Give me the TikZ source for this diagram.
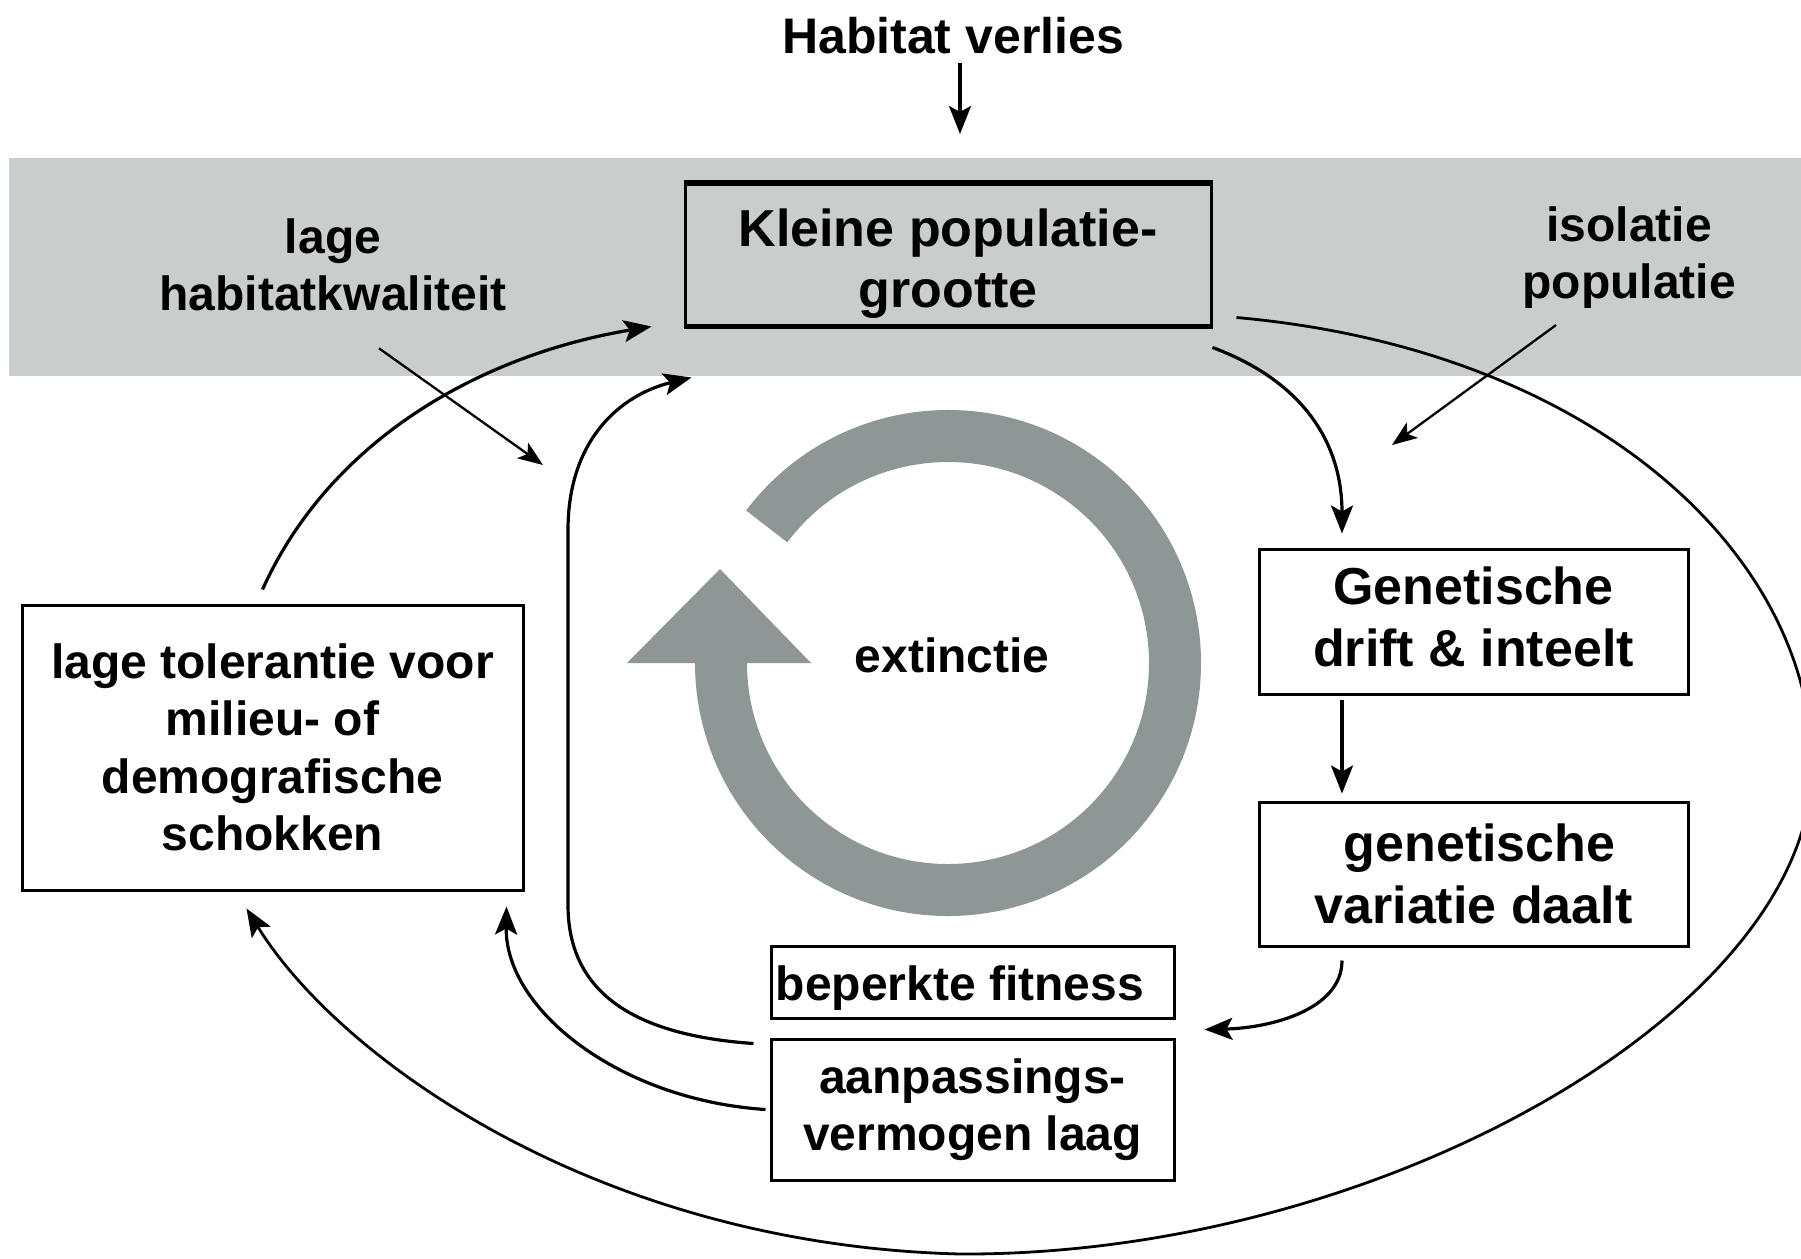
\documentclass[tikz,border=0pt]{standalone}
\usepackage{fontspec}
\setmainfont{Liberation Sans}
\usetikzlibrary{arrows.meta,calc}
\definecolor{bandgrey}{RGB}{201,205,204}
\definecolor{ringgrey}{RGB}{142,151,149}
\newcommand{\myfs}[2]{\fontsize{#1}{#2}\selectfont\bfseries}
\begin{document}
\begin{tikzpicture}[x=1pt,y=-1pt,
  box/.style={draw, line width=3pt, inner sep=0pt, align=center},
  lbl/.style={inner sep=0pt, align=center},
  arr/.style={line width=3.2pt, -{Stealth[length=28pt,width=22pt,inset=6pt]}},
  thinarr/.style={line width=2.3pt, -{Stealth[length=25pt,width=19pt,inset=6pt]}}]
\useasboundingbox (0,0) rectangle (1801,1258);
\fill[white] (0,0) rectangle (1801,1258);
% grey band
\fill[bandgrey] (9,158) rectangle (1801,376);
% extinction ring
\draw[ringgrey, line width=52pt] (948,663) ++(-143:227) arc[start angle=-143, end angle=180, radius=227];
\fill[ringgrey] (627,663) -- (811,663) -- (720,569) -- cycle;
\node[lbl, font=\myfs{48}{57}] (ex) at (952,655) {extinctie};
% texts
\node[lbl, font=\myfs{50}{60}] (hv) at (953,36) {Habitat verlies};
\node[lbl, font=\myfs{48}{57}] (lh) at (333,265) {lage\\habitatkwaliteit};
\node[lbl, font=\myfs{48}{57}] (ip) at (1629,258) {isolatie\\populatie};
% boxes
\node[box, fill=bandgrey, minimum width=526pt, minimum height=141pt] (kp) at (948,254.5) {};
\node[lbl, font=\myfs{52}{61}] (kpt) at (948,264) {Kleine populatie-\\grootte};
\draw[line width=5pt] (kp.north west) -- (kp.north east);
\draw[line width=5pt] (kp.south west) -- (kp.south east);
\node[box, minimum width=501pt, minimum height=285pt, font=\myfs{48}{57.5}] (lt) at (272.5,747.5) {lage tolerantie voor\\milieu- of\\demografische\\schokken};
\node[box, minimum width=429pt, minimum height=145pt] (gd) at (1473.5,621.5) {};
\node[lbl, font=\myfs{52}{62}] (gdt) at (1473.5,617) {Genetische\\drift \& inteelt};
\node[box, minimum width=429pt, minimum height=144pt, font=\myfs{52}{62}] (gv) at (1473.5,874) {\hspace*{12pt}genetische\\variatie daalt};
\node[box, minimum width=403pt, minimum height=72pt] (bf) at (972.5,982) {};
\node[lbl, font=\myfs{48}{57}] (bft) at (960,988) {beperkte fitness};
\node[box, minimum width=403pt, minimum height=141pt, font=\myfs{48}{57}] (ap) at (972.5,1109.5) {aanpassings-\\vermogen laag};
% free ends
\coordinate (hvE) at (960,134);
\coordinate (lhE) at (543,465);
\coordinate (ipE) at (1392,445);
% connectors
\draw[arr] ($(hv.south)+(7,8)$) -- (hvE);
\draw[thinarr] ([shift={(46,37)}]lh.south) -- (lhE);
\draw[thinarr] ([shift={(-73,16)}]ip.south) -- (ipE);
\draw[arr] ([shift={(0,21)}]kp.south east) .. controls (1300,380) and (1342,440) .. ([shift={(-131.5,-14)}]gd.north);
\draw[arr] ([shift={(-131.5,4)}]gd.south) -- ([shift={(-131.5,-7)}]gv.north);
\draw[arr] ([shift={(-131.5,13)}]gv.south) .. controls (1342,1010) and (1270,1028) .. ([shift={(29,-8)}]ap.north east);
\draw[arr, line width=2.8pt] ([shift={(24,-9)}]kp.south east) .. controls (1600,350) and (1815,560) .. (1812,770)
  .. controls (1808,1010) and (1380,1256) .. (960,1254)
  .. controls (600,1245) and (340,1060) .. ([shift={(-26,17)}]lt.south);
\draw[arr] ([shift={(-10,-14)}]lt.north) .. controls (330,440) and (480,355) .. ([xshift=-32pt]kp.south west);
\draw[arr] ([shift={(-16,6)}]ap.north west) .. controls (630,1035) and (568,990) .. (568,905) -- (568,530)
  .. controls (568,440) and (620,395) .. ([shift={(8,51)}]kp.south west);
\draw[arr] ([xshift=-4pt]ap.west) .. controls (620,1100) and (505,1010) .. ([shift={(-18,15)}]lt.south east);
\end{tikzpicture}
\end{document}
